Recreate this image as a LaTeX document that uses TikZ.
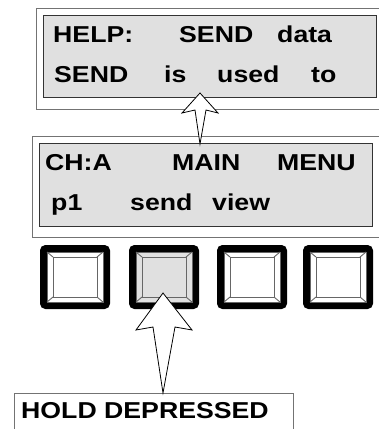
\documentclass[tikz,border=0pt]{standalone}
\usepackage{fontspec}
\newfontfamily\lcdfont{Liberation Sans}[FakeStretch=1.16]
\usetikzlibrary{calc,positioning}
\tikzset{
        frame/.style = {draw=black!55, line width=0.9pt, fill=white,
            anchor=north west, inner sep=0pt},
        lcd/.style = {draw=black!80, line width=0.9pt, fill=black!12,
            anchor=north west, inner sep=0pt},
        word/.style = {anchor=base west, inner sep=0pt,
            font=\lcdfont\bfseries\fontsize{23}{27}\selectfont},
        key/.style = {draw, line width=7pt, rounded corners=2.5pt,
            minimum width=63pt, minimum height=57pt, inner sep=0pt},
        bevel/.style = {draw=black!60, line width=0.9pt},
        bigarrow/.style = {draw, fill=white, line width=0.8pt, line join=miter},
    }

\begin{document}
\begin{tikzpicture}[x=1pt,y=-1pt]
\useasboundingbox (0,0) rectangle (379,429);

% help window
\node[frame, minimum width=380pt, minimum height=101pt] (helpframe) at (36,8) {};
\node[lcd, minimum width=333pt, minimum height=82pt] (helplcd) at (43,15) {};
\node[word] (h1) at (53,42) {HELP:};
\node[word] (h2) at (179,42) {SEND};
\node[word] (h3) at (277,42) {data};
\node[word] (h4) at (54,82) {SEND};
\node[word] (h5) at (164,82) {is};
\node[word] (h6) at (217,82) {used};
\node[word] (h7) at (311,82) {to};

% main menu window
\node[frame, minimum width=380pt, minimum height=101pt] (mainframe) at (32,136) {};
\node[lcd, minimum width=333pt, minimum height=83pt] (mainlcd) at (39,143) {};
\node[word] (m1) at (45,170) {CH:A};
\node[word] (m2) at (172,170) {MAIN};
\node[word] (m3) at (277,170) {MENU};
\node[word] (m4) at (51,210) {p1};
\node[word] (m5) at (130,210) {send};
\node[word] (m6) at (212,210) {view};

% keys
\foreach \n/\x/\shade in {1/75/white, 2/164/black!12, 3/252/white, 4/338/white} {
    \node[key, fill=\shade] (key\n) at (\x,277) {};
    \draw[bevel] ($(key\n.center)+(-28,-25)$) rectangle ($(key\n.center)+(28,25)$);
    \draw[bevel] ($(key\n.center)+(-22,-20)$) rectangle ($(key\n.center)+(22,20)$);
    \foreach \sx/\sy in {-1/-1, 1/-1, 1/1, -1/1}
        \draw[bevel] ($(key\n.center)+(28*\sx,25*\sy)$) -- ($(key\n.center)+(22*\sx,20*\sy)$);
}

% label
\node[frame, minimum width=279pt, minimum height=50pt] (hold) at (14,393) {};
\node[word] (holdtext) at (21,418) {HOLD DEPRESSED};

% arrows
\coordinate (tipA) at (200,93);
\coordinate (footA) at (200,144);
\draw[bigarrow] (tipA) -- ++(18,20) -- ++(-12,-3) -- (footA)
    -- (195,110) -- ++(-13,3) -- cycle;
\coordinate (tipB) at (163,293);
\coordinate (footB) at (163,393);
\draw[bigarrow] (tipB) -- ++(29,37) -- ++(-17,-3) -- (footB)
    -- (153,327) -- ++(-17,3) -- cycle;
\end{tikzpicture}
\end{document}
